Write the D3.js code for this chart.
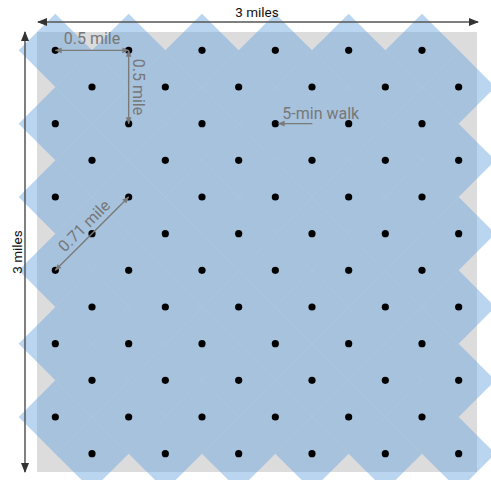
<!DOCTYPE html>
<html>
<head>
<meta charset="utf-8">
<script src="https://cdn.jsdelivr.net/npm/d3@7"></script>
<style>
html,body{margin:0;padding:0;background:#fff;}
svg{display:block;font-family:Roboto,"Noto Sans",sans-serif;}
</style>
</head>
<body>
<svg id="chart" width="491" height="480"></svg>
<script>
// Data (miles)
const areaSize = 3;                 // square side, miles
const walkRadius = 0.25;            // 5-min walk distance, miles
const rowY = [0.125, 0.375, 0.625, 0.875, 1.125, 1.375, 1.625, 1.875, 2.125, 2.375, 2.625, 2.875];
const oddRowX = [0.125, 0.625, 1.125, 1.625, 2.125, 2.625];
const evenRowX = [0.375, 0.875, 1.375, 1.875, 2.375, 2.875];
const sideLabel = "3 miles";
const annotations = [
  {label: "0.5 mile", from: [0.125, 0.125], to: [0.625, 0.125], type: "h"},
  {label: "0.5 mile", from: [0.625, 0.125], to: [0.625, 0.625], type: "v"},
  {label: "0.71 mile", from: [0.125, 1.625], to: [0.625, 1.125], type: "d"}
];
const walkLabel = {label: "5-min walk", dot: [1.625, 0.625]};

const stops = [];
rowY.forEach((y, i) => {
  (i % 2 === 0 ? oddRowX : evenRowX).forEach(x => stops.push({x, y}));
});

const svg = d3.select("#chart");
const x = d3.scaleLinear().domain([0, areaSize]).range([37, 477]);
const y = d3.scaleLinear().domain([0, areaSize]).range([32, 472]);

const defs = svg.append("defs");
function marker(id, color, size) {
  defs.append("marker").attr("id", id)
    .attr("viewBox", "0 0 10 10").attr("refX", 9).attr("refY", 5)
    .attr("markerWidth", size).attr("markerHeight", size)
    .attr("markerUnits", "userSpaceOnUse")
    .attr("orient", "auto-start-reverse")
    .append("path").attr("d", "M0,1 L10,5 L0,9 Z").attr("fill", color);
}
marker("arrDark", "#333", 10);
marker("arrGray", "#7a7a7a", 7);

// gray square
svg.append("rect")
  .attr("x", x(0)).attr("y", y(0))
  .attr("width", x(areaSize) - x(0)).attr("height", y(areaSize) - y(0))
  .attr("fill", "#dcdcdc");

// walk diamonds
svg.append("g").selectAll("path").data(stops).join("path")
  .attr("d", d => {
    const pts = [[d.x, d.y - walkRadius], [d.x + walkRadius, d.y], [d.x, d.y + walkRadius], [d.x - walkRadius, d.y]];
    return "M" + pts.map(p => x(p[0]) + "," + y(p[1])).join("L") + "Z";
  })
  .attr("fill", "rgba(105,163,222,0.46)");

// dots
svg.append("g").selectAll("circle").data(stops).join("circle")
  .attr("cx", d => x(d.x)).attr("cy", d => y(d.y)).attr("r", 3.6)
  .attr("fill", "#000");

// dimension arrows
svg.append("line")
  .attr("x1", x(0) + 1).attr("x2", x(areaSize) + 1).attr("y1", 22).attr("y2", 22)
  .attr("stroke", "#555").attr("stroke-width", 1.5)
  .attr("marker-start", "url(#arrDark)").attr("marker-end", "url(#arrDark)");
svg.append("text").attr("x", (x(0) + x(areaSize)) / 2).attr("y", 17)
  .attr("text-anchor", "middle").attr("font-size", 13.5).attr("fill", "#111").text(sideLabel);

svg.append("line")
  .attr("x1", 25).attr("x2", 25).attr("y1", y(0)).attr("y2", y(areaSize))
  .attr("stroke", "#555").attr("stroke-width", 1.5)
  .attr("marker-start", "url(#arrDark)").attr("marker-end", "url(#arrDark)");
svg.append("text").attr("transform", `translate(21.5,${(y(0) + y(areaSize)) / 2})  rotate(-90)`)
  .attr("text-anchor", "middle").attr("font-size", 13.5).attr("fill", "#111").text(sideLabel);

// annotations
const ann = svg.append("g");
annotations.forEach(a => {
  const x1 = x(a.from[0]), y1 = y(a.from[1]), x2 = x(a.to[0]), y2 = y(a.to[1]);
  ann.append("line").attr("x1", x1).attr("y1", y1).attr("x2", x2).attr("y2", y2)
    .attr("stroke", "#7a7a7a").attr("stroke-width", 1.4)
    .attr("marker-start", "url(#arrGray)").attr("marker-end", "url(#arrGray)");
  const mx = (x1 + x2) / 2, my = (y1 + y2) / 2;
  let tr;
  if (a.type === "h") tr = `translate(${mx},${my - 6})`;
  else if (a.type === "v") tr = `translate(${mx + 4},${my})  rotate(90)`;
  else tr = `translate(${mx - 4},${my - 4}) rotate(-45)`;
  ann.append("text").attr("transform", tr).attr("text-anchor", "middle")
    .attr("font-size", 16).attr("fill", "#777").text(a.label);
});
const wx = x(walkLabel.dot[0]), wy = y(walkLabel.dot[1]);
ann.append("line").attr("x1", wx + 37).attr("y1", wy).attr("x2", wx + 3).attr("y2", wy)
  .attr("stroke", "#7a7a7a").attr("stroke-width", 1.4)
  .attr("marker-end", "url(#arrGray)");
ann.append("text").attr("x", wx + 7).attr("y", wy - 4.5)
  .attr("font-size", 16).attr("fill", "#777").text(walkLabel.label);
</script>
</body>
</html>
